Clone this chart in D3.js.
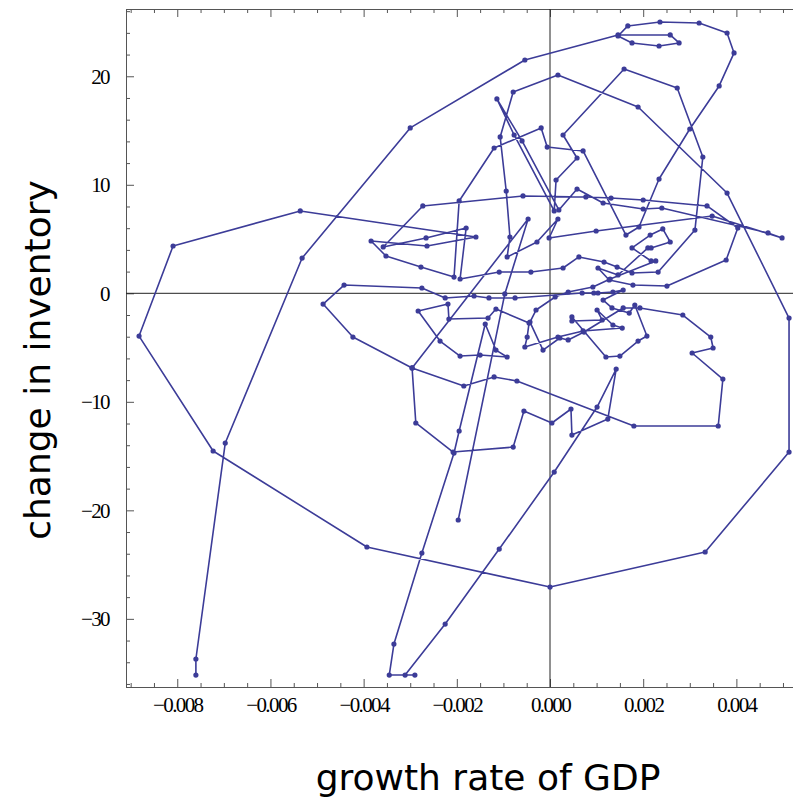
<!DOCTYPE html>
<html>
<head>
<meta charset="utf-8">
<script src="https://cdn.jsdelivr.net/npm/d3@7"></script>
<style>
  html, body { margin: 0; padding: 0; background: #fff; }
  svg { display: block; }
</style>
</head>
<body>
<svg id="chart" width="793" height="798"></svg>
<script>
// Quarterly trajectory: growth rate of GDP vs. change in inventory
const growth = [
  -0.00760, -0.00760, -0.00697, -0.00532, -0.00300, -0.00054, 0.00146, 0.00258, 0.00277, 0.00234,
  0.00176, 0.00146, 0.00167, 0.00236, 0.00320, 0.00380, 0.00395, 0.00363, 0.00300, 0.00234,
  0.00191, 0.00163, 0.00071, -0.00006, -0.00019, -0.00120, -0.00195, -0.00206, -0.00277, -0.00352,
  -0.00384, -0.00264, -0.00159, -0.00536, -0.00809, -0.00882, -0.00723, -0.00393, 0.00000, 0.00333,
  0.00513, 0.00513, 0.00380, 0.00189, 0.00017, -0.00079, -0.00107, -0.00094, -0.00086, -0.00092,
  -0.00028, 0.00017, -0.00002, 0.00099, 0.00348, 0.00498, 0.00468, 0.00240, 0.00200, 0.00114,
  0.00058, 0.00019, -0.00060, -0.00114, -0.00077, 0.00009, 0.00013, 0.00058, 0.00028, 0.00159,
  0.00273, 0.00328, 0.00311, 0.00232, 0.00176, 0.00144, 0.00116, 0.00062, 0.00028, -0.00041,
  -0.00109, -0.00193, -0.00180, -0.00266, -0.00358, -0.00273, -0.00058, 0.00077, 0.00131, 0.00200,
  0.00337, 0.00403, 0.00378, 0.00251, 0.00178, 0.00127, 0.00103, 0.00146, 0.00210, 0.00217,
  0.00258, 0.00242, 0.00215, 0.00176, 0.00217, 0.00227, 0.00129, 0.00092, 0.00039, 0.00011,
  -0.00030, -0.00043, -0.00015, 0.00021, 0.00039, 0.00073, 0.00157, 0.00193, 0.00285, 0.00345,
  0.00350, 0.00305, 0.00371, 0.00361, 0.00180, -0.00071, -0.00120, -0.00185, -0.00296, -0.00423,
  -0.00487, -0.00442, -0.00275, -0.00225, -0.00163, -0.00131, -0.00075, 0.00069, 0.00094, 0.00103,
  0.00135, 0.00157, 0.00114, 0.00133, 0.00170, 0.00182, 0.00208, 0.00189, 0.00150, 0.00120,
  0.00047, 0.00047, 0.00112, 0.00101, 0.00135, 0.00155, 0.00071, 0.00017, -0.00054, -0.00049,
  -0.00045, -0.00116, -0.00133, -0.00217, -0.00219, -0.00283, -0.00236, -0.00193, -0.00150, -0.00092,
  -0.00116, -0.00139, -0.00195, -0.00206, -0.00275, -0.00335, -0.00345, -0.00290, -0.00311, -0.00225,
  -0.00109, 0.00009, 0.00101, 0.00142, 0.00124, 0.00047, 0.00045, 0.00004, -0.00056, -0.00079,
  -0.00208, -0.00288, -0.00296, -0.00047, -0.00097, -0.00197
];
const inventory = [
  -35.18, -33.70, -13.80, 3.25, 15.24, 21.50, 23.81, 23.81, 23.07, 22.79,
  23.07, 23.71, 24.64, 25.00, 24.91, 23.99, 22.15, 19.11, 15.14, 10.53,
  6.11, 5.37, 13.12, 13.48, 15.24, 13.39, 8.51, 1.50, 2.42, 3.44,
  4.82, 4.36, 5.19, 7.59, 4.36, -3.94, -14.53, -23.38, -27.07, -23.84,
  -14.63, -2.28, 9.24, 17.17, 20.12, 18.55, 14.41, 9.43, 5.19, 3.35,
  4.73, 6.85, 5.10, 5.74, 7.12, 5.10, 5.56, 7.86, 7.77, 8.32,
  9.61, 7.68, 14.04, 17.91, 14.59, 7.59, 10.44, 12.47, 14.59, 20.67,
  18.92, 12.56, 5.83, 1.96, 1.87, 2.42, 2.88, 3.35, 2.33, 1.96,
  1.96, 1.32, 6.02, 5.10, 4.27, 8.05, 8.97, 8.88, 8.78, 8.60,
  8.05, 6.02, 3.07, 0.67, 0.76, 1.23, 2.33, 1.69, 4.18, 4.18,
  4.73, 5.93, 5.37, 4.18, 2.98, 2.98, 1.32, 0.58, 0.12, -0.34,
  -1.54, -2.65, -5.23, -4.12, -4.30, -3.57, -1.35, -1.35, -2.00, -4.03,
  -5.04, -5.50, -7.90, -12.23, -12.23, -8.08, -7.71, -8.54, -6.88, -4.03,
  -0.99, 0.76, 0.49, -0.43, -0.25, -0.43, -0.43, 0.03, 0.03, 0.03,
  0.12, 0.30, -0.62, -1.35, -1.82, -1.08, -3.94, -4.40, -5.78, -5.87,
  -2.18, -2.55, -2.46, -1.54, -2.92, -3.20, -3.47, -4.03, -4.95, -4.03,
  -2.74, -1.45, -2.28, -2.37, -0.99, -1.63, -4.40, -5.78, -5.69, -5.87,
  -5.23, -2.83, -12.69, -14.72, -23.94, -32.32, -35.18, -35.18, -35.18, -30.48,
  -23.57, -16.47, -10.48, -6.98, -11.59, -13.06, -10.66, -11.95, -10.85, -14.17,
  -14.63, -11.95, -6.88, 6.85, -0.06, -20.89
];

const xTickValues = [-0.008, -0.006, -0.004, -0.002, 0, 0.002, 0.004];
const xTickLabels = ["\u22120.008", "\u22120.006", "\u22120.004", "\u22120.002", "0.000", "0.002", "0.004"];
const yTickValues = [-30, -20, -10, 0, 10, 20];
const yTickLabels = ["\u221230", "\u221220", "\u221210", "0", "10", "20"];

const xTitle = "growth rate of GDP";
const yTitle = "change in inventory";

const svg = d3.select("#chart");
const plotLeft = 126, plotRight = 793, plotTop = 9, plotBottom = 687;

const x = d3.scaleLinear().domain([-0.0091, 0.005215]).range([plotLeft, plotRight]);
const y = d3.scaleLinear().domain([-36.28, 26.2]).range([plotBottom, plotTop]);

const frameColor = "#555";
const tickFont = "'Liberation Serif', 'Times New Roman', serif";

// minor tick positions
const xMinor = d3.range(-0.009, 0.0052, 0.0005).filter(v => !xTickValues.some(t => Math.abs(t - v) < 1e-9));
const yMinor = d3.range(-36, 27, 2).filter(v => v % 10 !== 0);

function styleAxis(g) {
  g.select(".domain").attr("stroke", frameColor).attr("stroke-width", 1);
  g.selectAll(".tick line").attr("stroke", frameColor).attr("stroke-width", 1);
  g.selectAll(".tick text")
    .attr("fill", "#000")
    .attr("font-family", tickFont)
    .attr("font-size", 21)
    .attr("letter-spacing", "-1.6px");
}

// bottom frame
svg.append("g").attr("transform", `translate(0,${plotBottom})`)
  .call(d3.axisBottom(x).tickValues(xMinor).tickSize(-4).tickFormat(""))
  .call(styleAxis);
svg.append("g").attr("transform", `translate(0,${plotBottom})`)
  .call(d3.axisBottom(x).tickValues(xTickValues).tickSize(-8).tickPadding(10)
    .tickFormat((d, i) => xTickLabels[i]))
  .call(styleAxis);

// top frame
svg.append("g").attr("transform", `translate(0,${plotTop})`)
  .call(d3.axisTop(x).tickValues(xMinor).tickSize(-4).tickFormat(""))
  .call(styleAxis);
svg.append("g").attr("transform", `translate(0,${plotTop})`)
  .call(d3.axisTop(x).tickValues(xTickValues).tickSize(-8).tickFormat(""))
  .call(styleAxis);

// left frame
svg.append("g").attr("transform", `translate(${plotLeft},0)`)
  .call(d3.axisLeft(y).tickValues(yMinor).tickSize(-4).tickFormat(""))
  .call(styleAxis);
svg.append("g").attr("transform", `translate(${plotLeft},0)`)
  .call(d3.axisLeft(y).tickValues(yTickValues).tickSize(-8).tickPadding(17)
    .tickFormat((d, i) => yTickLabels[i]))
  .call(styleAxis);

// axes through the origin
svg.append("line")
  .attr("x1", x(0)).attr("x2", x(0)).attr("y1", plotTop).attr("y2", plotBottom)
  .attr("stroke", "#222").attr("stroke-width", 1);
svg.append("line")
  .attr("x1", plotLeft).attr("x2", plotRight).attr("y1", y(0)).attr("y2", y(0))
  .attr("stroke", "#222").attr("stroke-width", 1);

// trajectory
const pts = growth.map((g, i) => [g, inventory[i]]);
const seriesColor = "#3c3c98";

svg.append("path")
  .datum(pts)
  .attr("fill", "none")
  .attr("stroke", seriesColor)
  .attr("stroke-width", 1.6)
  .attr("stroke-linejoin", "round")
  .attr("d", d3.line().x(d => x(d[0])).y(d => y(d[1])));

svg.append("g").selectAll("circle")
  .data(pts)
  .join("circle")
  .attr("cx", d => x(d[0]))
  .attr("cy", d => y(d[1]))
  .attr("r", 2.6)
  .attr("fill", seriesColor);

// axis titles
svg.append("text")
  .attr("x", 488).attr("y", 790)
  .attr("text-anchor", "middle")
  .attr("font-family", "'DejaVu Sans', Verdana, sans-serif")
  .attr("font-size", 36)
  .attr("fill", "#000")
  .text(xTitle);

svg.append("text")
  .attr("transform", "translate(50,360) rotate(-90)")
  .attr("text-anchor", "middle")
  .attr("font-family", "'DejaVu Sans', Verdana, sans-serif")
  .attr("font-size", 36)
  .attr("fill", "#000")
  .text(yTitle);
</script>
</body>
</html>
